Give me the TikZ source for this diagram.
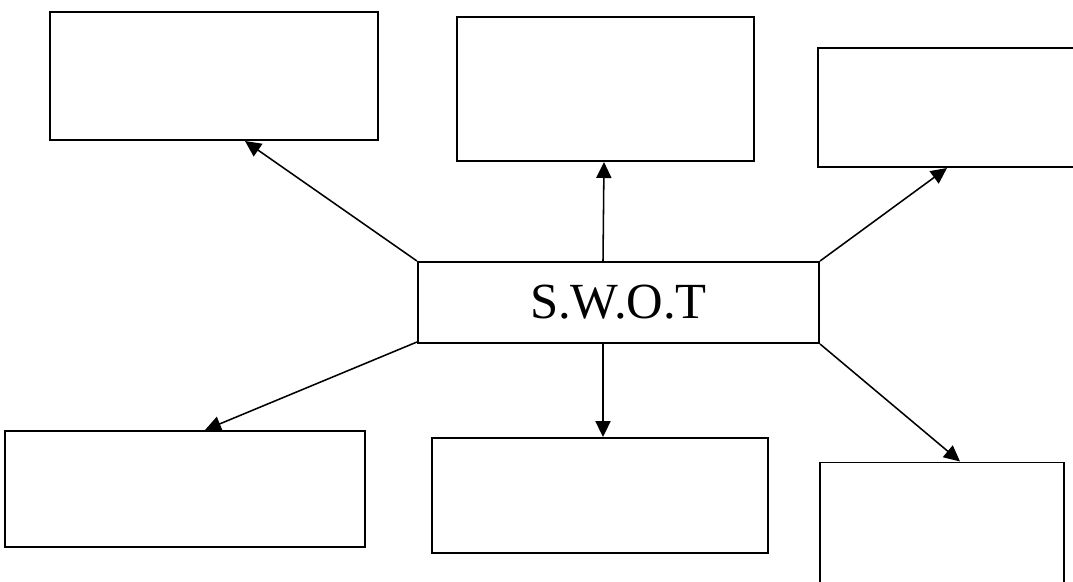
\documentclass[tikz,border=0pt]{standalone}
\usepackage{fontspec}
\setmainfont{Liberation Serif}
\usetikzlibrary{arrows,arrows.meta,calc,positioning}

\begin{document}
\begin{tikzpicture}[->,>={Triangle[length=4mm,width=3.8mm]},line width=1.1pt,
                    x=0.025cm,y=-0.025cm,
                    box/.style={draw,line width=1.4pt,rectangle,inner sep=0pt}]

  \useasboundingbox (0,0) rectangle (1073,581);

  % centre box
  \node[box,minimum width=10.025cm,minimum height=2.025cm,
        font=\fontsize{36}{43}\selectfont] (c) at (618.5,302.5) {S.W.O.T};

  % empty boxes round it
  \node[box,minimum width=8.2cm,minimum height=3.2cm]     (tl) at (214,76)    {};
  \node[box,minimum width=7.425cm,minimum height=3.6cm]   (tm) at (605.5,89)  {};
  \node[box,minimum width=7.05cm,minimum height=2.975cm]  (tr) at (959,107.5) {};
  \node[box,minimum width=9cm,minimum height=2.9cm]       (bl) at (185,489)   {};
  \node[box,minimum width=8.4cm,minimum height=2.875cm]   (bm) at (600,495.5) {};
  \node[box,minimum width=6.1cm,minimum height=3.425cm]   (br) at (942,531)   {};

  \draw (c.north west) -- ($(tl.south)+(31,0)$);
  \draw ($(c.north)+(-15.5,0)$) -- ($(tm.south)+(-1.5,0)$);
  \draw (c.north east) -- ($(tr.south)+(-12,0)$);
  \draw ($(c.south west)+(0,-2)$) -- ($(bl.north)+(20,0)$);
  \draw ($(c.south)+(-15.5,0)$) -- ($(bm.north)+(3,0)$);
  \draw (c.south east) -- ($(br.north)+(18,0)$);
\end{tikzpicture}
\end{document}
